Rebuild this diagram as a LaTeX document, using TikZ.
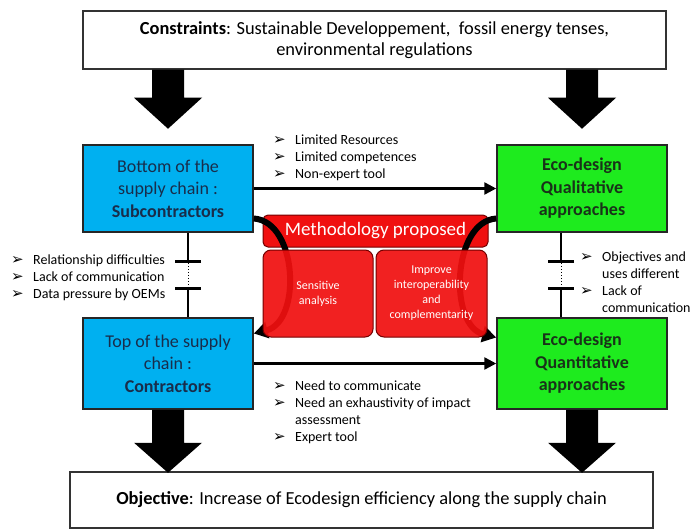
\documentclass[tikz,border=0pt]{standalone}
\usepackage{fontspec}
\setmainfont{Carlito}
\newfontfamily\dingfont{DejaVu Sans}
\usetikzlibrary{arrows.meta}

\definecolor{supplyblue}{RGB}{0,176,240}
\definecolor{ecogreen}{RGB}{30,235,30}
\definecolor{navytext}{RGB}{25,45,75}
\definecolor{greentext}{RGB}{25,50,25}
\definecolor{methred}{RGB}{240,16,16}

\newcommand{\bitem}{\makebox[22pt][l]{\dingfont\fontsize{15}{14}\selectfont ➢}}
\newcommand{\bcont}{\hspace*{22pt}}

\tikzset{
  infobox/.style={draw=black!80, line width=1.5pt, fill=white, inner sep=0pt, align=center, font=\fontsize{18.4}{21}\selectfont},
  chainbox/.style={draw=black!85, line width=1.5pt, fill=supplyblue, text=navytext, minimum width=170pt, inner sep=0pt, align=center, font=\fontsize{18}{22.5}\selectfont},
  ecobox/.style={chainbox, fill=ecogreen, text=greentext, font=\fontsize{18}{22.5}\selectfont\bfseries},
  methbox/.style={draw=red!45!black, line width=1pt, fill=methred, text=white, rounded corners=8pt, inner sep=0pt, align=center},
  bullist/.style={anchor=west, inner sep=0pt, align=left, font=\fontsize{14}{17}\selectfont},
  flowarrow/.style={line width=2.5pt, -{Triangle[length=12pt,width=12pt]}},
  feedback/.style={line width=6pt, -{Triangle[length=14pt,width=16pt]}},
  splitline/.style={line width=2.5pt, -{Bar[width=26pt,line width=3pt]}},
  pics/blockdown/.style 2 args={code={
    \fill[black] (-16,0) -- (16,0) -- (16,#1) -- (34,#1) -- (0,#1+#2) -- (-34,#1) -- (-16,#1) -- cycle;}}
}

\begin{document}
\begin{tikzpicture}[x=1pt, y=-1pt]
  \useasboundingbox (0,0) rectangle (692,529);

  % context and goal
  \node[infobox, minimum width=583pt, minimum height=58pt] (cons) at (374.5,40)
    {\textbf{Constraints}: Sustainable Developpement,\ \ fossil energy tenses,\\environmental regulations};
  \node[infobox, minimum width=583pt, minimum height=56pt] (obj) at (361.5,500)
    {\textbf{Objective}: Increase of Ecodesign efficiency along the supply chain};

  % actors and approaches
  \node[chainbox, minimum height=87pt] (blueTop) at (168,188.5) {Bottom of the\\supply chain :\\\textbf{Subcontractors}};
  \node[chainbox, minimum height=91pt] (blueBot) at (168,363.5) {Top of the supply\\chain :\\\textbf{Contractors}};
  \node[ecobox, minimum height=87pt] (greenTop) at (582,188.5) {Eco-design\\Qualitative\\approaches};
  \node[ecobox, minimum height=91pt] (greenBot) at (582,363.5) {Eco-design\\Quantitative\\approaches};

  % big arrows
  \foreach \col in {blueTop, greenTop}
    \pic at (\col |- cons.south) {blockdown={28}{31}};
  \foreach \col in {blueBot, greenBot}
    \pic at (\col.south) {blockdown={33}{30}};

  % links
  \draw[flowarrow] (blueTop) -- (greenTop);
  \draw[flowarrow] (blueBot) -- (greenBot);

  \draw[splitline] ([xshift=20pt]blueTop.south) -- ++(0,30) coordinate (gapA);
  \draw[splitline] ([xshift=20pt]blueBot.north) -- ++(0,-30) coordinate (gapB);
  \draw[dotted, line width=1pt] (gapA) -- (gapB);
  \draw[splitline] ([xshift=-21pt]greenTop.south) -- ++(0,30) coordinate (gapC);
  \draw[splitline] ([xshift=-21pt]greenBot.north) -- ++(0,-30) coordinate (gapD);
  \draw[dotted, line width=1pt] (gapC) -- (gapD);

  % methodology
  \node[methbox, rounded corners=5pt, minimum width=225pt, minimum height=32pt, font=\fontsize{19}{22}\selectfont] (meth) at (375.5,231) {Methodology proposed};
  \draw[feedback] ([yshift=-30pt]blueTop.east) .. controls +(44,3) and +(48,-12) .. ([yshift=30pt]blueBot.east);
  \draw[feedback] ([yshift=-30pt]greenTop.west) .. controls +(-44,3) and +(-48,-12) .. ([yshift=26pt]greenBot.west);
  \node[methbox, fill opacity=0.93, text opacity=1, minimum width=110pt, minimum height=87pt, font=\fontsize{12}{15}\selectfont] (sens) at (318,293.5) {Sensitive\\analysis};
  \node[methbox, fill opacity=0.93, text opacity=1, minimum width=111pt, minimum height=87pt, font=\fontsize{12}{15}\selectfont] (interop) at (431.5,293.5) {Improve\\interoperability\\and\\complementarity};

  % remarks
  \node[bullist] (limits) at (273,158) {\bitem Limited Resources\\\bitem Limited competences\\\bitem Non-expert tool};
  \node[bullist] (needs) at (273,412.5) {\bitem Need to communicate\\\bitem Need an exhaustivity of impact\\\bcont assessment\\\bitem Expert tool};
  \node[bullist] (gaps) at (11,278) {\bitem Relationship difficulties\\\bitem Lack of communication\\\bitem Data pressure by OEMs};
  \node[bullist] (diffs) at (580,282.5) {\bitem Objectives and\\\bcont uses different\\\bitem Lack of\\\bcont communication};
\end{tikzpicture}
\end{document}
